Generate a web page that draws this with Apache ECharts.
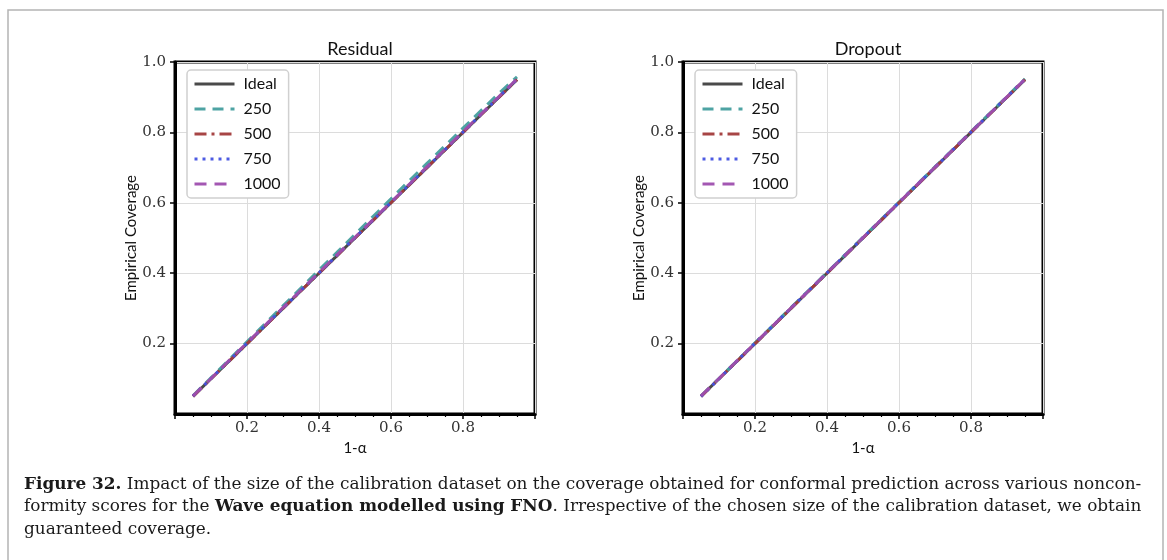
<!DOCTYPE html>
<html>
<head>
<meta charset="utf-8">
<script src="https://cdn.jsdelivr.net/npm/echarts@6/dist/echarts.min.js"></script>
<style>
html,body{margin:0;padding:0;background:#fff;}
#c{width:1167px;height:560px;}
</style>
</head>
<body>
<div id="c"></div>
<script>
// ---- data ----
const panelTitles = ['Residual', 'Dropout'];
const seriesNames = ['Ideal', '250', '500', '750', '1000'];
const xTickLabels = ['0.2', '0.4', '0.6', '0.8'];
const yTickLabels = ['0.2', '0.4', '0.6', '0.8', '1.0'];
const oneMinusAlpha = [0.05,0.10,0.15,0.20,0.25,0.30,0.35,0.40,0.45,0.50,0.55,0.60,0.65,0.70,0.75,0.80,0.85,0.90,0.95];
const ideal         = [0.05,0.10,0.15,0.20,0.25,0.30,0.35,0.40,0.45,0.50,0.55,0.60,0.65,0.70,0.75,0.80,0.85,0.90,0.95];
// Residual panel
const res250  = [0.052,0.103,0.154,0.205,0.256,0.307,0.358,0.409,0.459,0.510,0.561,0.611,0.662,0.712,0.762,0.812,0.862,0.911,0.958];
const res500  = [0.050,0.100,0.150,0.200,0.250,0.300,0.350,0.400,0.450,0.500,0.550,0.600,0.650,0.700,0.750,0.800,0.850,0.900,0.950];
const res750  = [0.051,0.101,0.151,0.201,0.251,0.301,0.351,0.401,0.451,0.501,0.551,0.601,0.651,0.701,0.751,0.801,0.851,0.901,0.951];
const res1000 = [0.051,0.101,0.152,0.202,0.252,0.302,0.352,0.402,0.452,0.502,0.552,0.602,0.652,0.702,0.752,0.802,0.852,0.902,0.952];
// Dropout panel
const drop250  = [0.051,0.101,0.151,0.202,0.252,0.302,0.352,0.402,0.452,0.502,0.552,0.602,0.652,0.702,0.752,0.802,0.852,0.902,0.952];
const drop500  = [0.050,0.100,0.150,0.200,0.250,0.300,0.350,0.400,0.450,0.500,0.550,0.600,0.650,0.700,0.750,0.800,0.850,0.900,0.950];
const drop750  = [0.050,0.100,0.151,0.201,0.251,0.301,0.351,0.401,0.451,0.501,0.551,0.601,0.651,0.701,0.751,0.801,0.851,0.901,0.951];
const drop1000 = [0.051,0.101,0.151,0.201,0.251,0.301,0.351,0.401,0.451,0.501,0.551,0.601,0.651,0.701,0.751,0.801,0.851,0.901,0.951];
const panelData = [
  [ideal, res250, res500, res750, res1000],
  [ideal, drop250, drop500, drop750, drop1000]
];
const captionLines = [
  '{b|Figure 32.} Impact of the size of the calibration dataset on the coverage obtained for conformal prediction across various noncon-',
  'formity scores for the {b|Wave equation modelled using FNO}. Irrespective of the chosen size of the calibration dataset, we obtain',
  'guaranteed coverage.'
];

// ---- styles ----
const colors = ['#404040', '#449e9e', '#a23b3b', '#4352e0', '#9e4eae'];
const dashes = ['solid', [11, 7], [12, 5, 3, 5], [3, 5], [12, 8]];
const grids = [
  {left: 175, top: 62, width: 360, height: 352},
  {left: 683, top: 62, width: 360, height: 352}
];
const serifFont = '"DejaVu Serif", serif';
const sansFont = 'Lato, "Open Sans", sans-serif';
const captionFont = '"DejaVu Serif", serif';

const chart = echarts.init(document.getElementById('c'), null, {renderer: 'canvas'});

const option = {
  animation: false,
  backgroundColor: '#fff',
  grid: grids.map(g => Object.assign({show: true, borderColor: '#000', borderWidth: 3, backgroundColor: 'transparent'}, g)),
  title: panelTitles.map((t, i) => ({
    text: t,
    left: grids[i].left + grids[i].width / 2,
    textAlign: 'center',
    top: 35,
    textStyle: {fontFamily: sansFont, fontSize: 18, fontWeight: 'normal', color: '#111'}
  })),
  legend: panelTitles.map((t, i) => ({
    data: seriesNames,
    orient: 'vertical',
    left: grids[i].left + 12,
    top: 70,
    padding: [6, 8, 6, 6],
    itemWidth: 40,
    itemHeight: 14,
    itemGap: 9,
    backgroundColor: '#fff',
    borderColor: '#d0d0d0',
    borderWidth: 1.5,
    borderRadius: 4,
    selectedMode: false,
    itemStyle: {opacity: 0},
    lineStyle: {width: 3},
    textStyle: {fontFamily: sansFont, fontSize: 16, color: '#111', padding: [0, 0, 0, 4]}
  })),
  xAxis: panelTitles.map((t, i) => ({
    type: 'value',
    gridIndex: i,
    min: 0,
    max: 1,
    interval: 0.2,
    name: '1-α',
    nameLocation: 'middle',
    nameGap: 24,
    nameTextStyle: {fontFamily: sansFont, fontSize: 15, color: '#111'},
    axisLine: {show: true, lineStyle: {color: '#000', width: 3}},
    axisTick: {show: true, inside: false, length: 5, lineStyle: {color: '#000', width: 1.5}},
    minorTick: {show: true, splitNumber: 4, length: 3, lineStyle: {color: '#000', width: 1.2}},
    splitLine: {show: true, lineStyle: {color: '#dcdcdc', width: 1}},
    axisLabel: {
      showMinLabel: false, showMaxLabel: false, margin: 7,
      fontFamily: serifFont, fontSize: 15, color: '#333',
      formatter: v => { const s = v.toFixed(1); return xTickLabels.includes(s) ? s : ''; }
    }
  })),
  yAxis: panelTitles.map((t, i) => ({
    type: 'value',
    gridIndex: i,
    min: 0,
    max: 1,
    interval: 0.2,
    name: 'Empirical Coverage',
    nameLocation: 'middle',
    nameGap: 32,
    nameTextStyle: {fontFamily: sansFont, fontSize: 15, color: '#111'},
    axisLine: {show: true, lineStyle: {color: '#000', width: 3}},
    axisTick: {show: true, inside: false, length: 5, lineStyle: {color: '#000', width: 1.5}},
    splitLine: {show: true, lineStyle: {color: '#dcdcdc', width: 1}},
    axisLabel: {
      showMinLabel: false, margin: 9,
      fontFamily: serifFont, fontSize: 15, color: '#333',
      formatter: v => { const s = v.toFixed(1); return yTickLabels.includes(s) ? s : ''; }
    }
  })),
  series: [],
  graphic: [
    {
      type: 'rect',
      shape: {x: 8, y: 10, width: 1155, height: 600},
      style: {fill: 'none', stroke: '#b4b4b4', lineWidth: 1.5},
      silent: true
    }
  ].concat(captionLines.map((line, k) => ({
    type: 'text',
    left: 24,
    top: 476 + k * 22.5,
    style: {
      text: line,
      font: '16.9px ' + captionFont,
      fill: '#1a1a1a',
      rich: {b: {fontWeight: 'bold', fontSize: 16.9, fontFamily: captionFont, fill: '#1a1a1a'}}
    },
    silent: true
  })))
};

panelData.forEach((arrs, p) => {
  arrs.forEach((ys, s) => {
    option.series.push({
      name: seriesNames[s],
      type: 'line',
      xAxisIndex: p,
      yAxisIndex: p,
      data: oneMinusAlpha.map((x, k) => [x, ys[k]]),
      showSymbol: false,
      symbol: 'none',
      lineStyle: {color: colors[s], width: 3, type: dashes[s], opacity: 0.95},
      itemStyle: {color: colors[s]},
      z: 2 + s
    });
  });
});

chart.setOption(option);
</script>
</body>
</html>
